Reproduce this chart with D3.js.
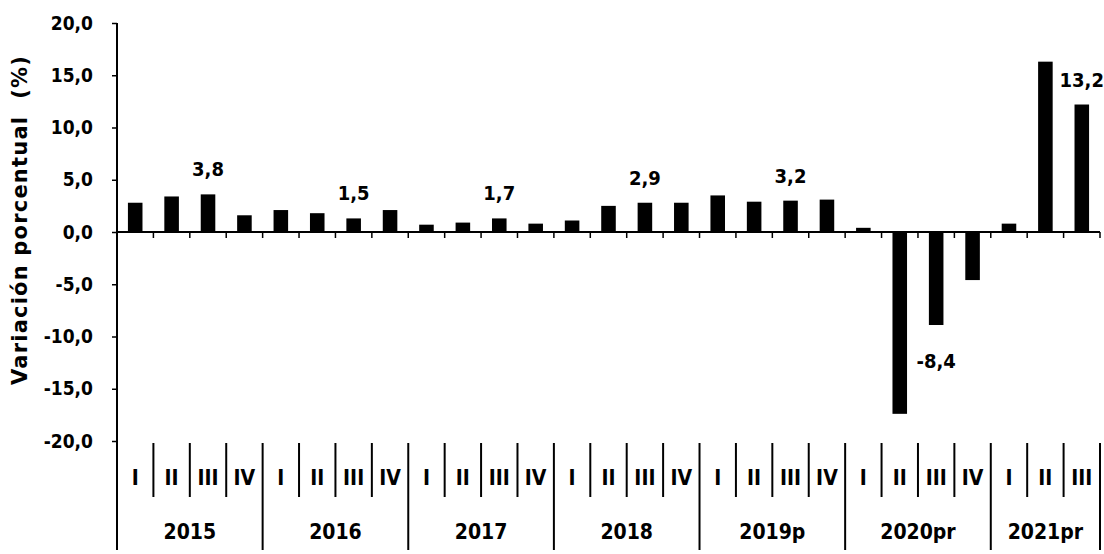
<!DOCTYPE html>
<html>
<head>
<meta charset="utf-8">
<script src="https://cdn.jsdelivr.net/npm/d3@7"></script>
<style>
  html, body { margin: 0; padding: 0; background: #fff; }
  svg { display: block; }
  text { font-family: "DejaVu Sans Condensed", "Liberation Sans Narrow", sans-serif; fill: #000; }
</style>
</head>
<body>
<svg id="chart" width="1104" height="554"></svg>
<script>
// ---- data ----
const years = ["2015", "2016", "2017", "2018", "2019p", "2020pr", "2021pr"];
const quarters = ["I", "II", "III", "IV"];
const quartersPerYear = [4, 4, 4, 4, 4, 4, 3];
const values = [
  2.8, 3.4, 3.6, 1.6,
  2.1, 1.8, 1.3, 2.1,
  0.7, 0.9, 1.3, 0.8,
  1.1, 2.5, 2.8, 2.8,
  3.5, 2.9, 3.0, 3.1,
  0.4, -17.4, -8.9, -4.6,
  0.8, 16.3, 12.2
];
const annualYears = ["2015", "2016", "2017", "2018", "2019p", "2020pr", "2021pr"];
const annualLabels = ["3,8", "1,5", "1,7", "2,9", "3,2", "-8,4", "13,2"];
const annualQuarter = ["III", "III", "III", "III", "III", "III", "III"];
const yTicks = [20, 15, 10, 5, 0, -5, -10, -15, -20];
const yTitle = "Variación porcentual\u00a0\u00a0(%)";

// ---- build category list ----
const cats = [];
years.forEach((y, yi) => {
  for (let q = 0; q < quartersPerYear[yi]; q++) {
    cats.push({ key: y + "-" + quarters[q], year: y, q: quarters[q], value: values[cats.length] });
  }
});

const svg = d3.select("#chart");
const left = 117, right = 1100;
const x = d3.scaleBand().domain(cats.map(d => d.key)).range([left, right]).paddingInner(0.6).paddingOuter(0.3);
const y = d3.scaleLinear().domain([-20, 20]).range([441, 23]);
const step = x.step();
const slotLeft = i => left + i * step;

// y axis
const yAxis = d3.axisLeft(y).tickValues(yTicks).tickSize(5).tickPadding(19)
  .tickFormat(d => d3.format(".1f")(d).replace(".", ",").replace("−", "-"));
const gy = svg.append("g").attr("transform", `translate(${left},0)`).call(yAxis);
gy.select(".domain").remove();
gy.selectAll("line").attr("stroke", "#000").attr("stroke-width", 1.5);
gy.selectAll("text").attr("font-size", 19).attr("font-weight", "bold")
  .style("font-family", "'DejaVu Sans Condensed', sans-serif");

// vertical axis line (extends through category labels)
svg.append("line").attr("x1", left).attr("x2", left).attr("y1", y(20)).attr("y2", 550)
  .attr("stroke", "#000").attr("stroke-width", 2);

// y title
svg.append("text")
  .attr("transform", `translate(27, 220) rotate(-90)`)
  .attr("text-anchor", "middle")
  .attr("font-size", 21).attr("font-weight", "bold")
  .attr("letter-spacing", 1.2)
  .style("font-family", "'DejaVu Sans', sans-serif")
  .text(yTitle);

// bars
svg.append("g").selectAll("rect").data(cats).join("rect")
  .attr("x", d => x(d.key))
  .attr("width", x.bandwidth())
  .attr("y", d => Math.min(y(0), y(d.value)))
  .attr("height", d => Math.abs(y(d.value) - y(0)))
  .attr("fill", "#000");

// zero line
svg.append("line").attr("x1", left).attr("x2", right).attr("y1", y(0)).attr("y2", y(0))
  .attr("stroke", "#000").attr("stroke-width", 2);
// small ticks at category boundaries on zero line
svg.append("g").selectAll("line").data(d3.range(1, cats.length + 1)).join("line")
  .attr("x1", i => slotLeft(i)).attr("x2", i => slotLeft(i))
  .attr("y1", y(0)).attr("y2", y(0) + 6)
  .attr("stroke", "#000").attr("stroke-width", 1.5);

// category axis: quarter separators and labels
const qTop = 443, qBottom = 497, yBottom = 550;
let idx = 0;
const yearStarts = [];
years.forEach((yr, yi) => { yearStarts.push(idx); idx += quartersPerYear[yi]; });
yearStarts.push(cats.length);

const sepG = svg.append("g");
d3.range(1, cats.length + 1).forEach(i => {
  const isYear = yearStarts.includes(i);
  sepG.append("line")
    .attr("x1", slotLeft(i)).attr("x2", slotLeft(i))
    .attr("y1", qTop).attr("y2", isYear ? yBottom : qBottom)
    .attr("stroke", "#000").attr("stroke-width", 2);
});

svg.append("g").selectAll("text").data(cats).join("text")
  .attr("x", d => x(d.key) + x.bandwidth() / 2)
  .attr("y", 478)
  .attr("dy", "0.35em")
  .attr("text-anchor", "middle")
  .attr("font-size", 21).attr("font-weight", "bold")
  .text(d => d.q);

svg.append("g").selectAll("text").data(years).join("text")
  .attr("x", (d, i) => (slotLeft(yearStarts[i]) + slotLeft(yearStarts[i + 1])) / 2)
  .attr("y", 532)
  .attr("dy", "0.35em")
  .attr("text-anchor", "middle")
  .attr("font-size", 21).attr("font-weight", "bold")
  .text(d => d);

// annual labels
svg.append("g").selectAll("text").data(annualYears).join("text")
  .each(function (yr, i) {
    const c = cats.find(d => d.year === yr && d.q === annualQuarter[i]);
    const cx = x(c.key) + x.bandwidth() / 2;
    const cy = c.value >= 0 ? y(c.value) - 25 : y(c.value) + 36;
    d3.select(this).attr("x", cx).attr("y", cy).attr("dy", "0.35em");
  })
  .attr("text-anchor", "middle")
  .attr("font-size", 20).attr("font-weight", "bold")
  .text((d, i) => annualLabels[i]);
</script>
</body>
</html>
